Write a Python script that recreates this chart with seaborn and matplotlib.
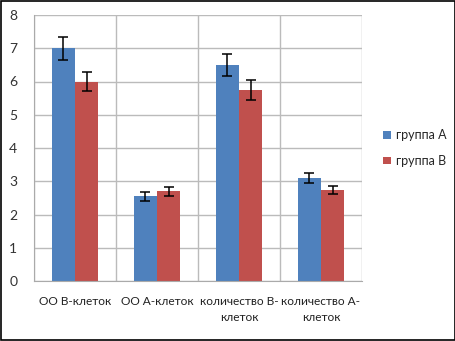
import matplotlib
matplotlib.use("Agg")
import matplotlib.pyplot as plt
import seaborn as sns
import pandas as pd
from matplotlib.patches import Rectangle

categories = ["ОО В-клеток", "ОО А-клеток", "количество В-\nклеток", "количество А-\nклеток"]
groups = ["группа А", "группа В"]
values_a = [7.0, 2.55, 6.5, 3.1]
values_b = [6.0, 2.7, 5.75, 2.75]
err_a = [0.35, 0.13, 0.33, 0.15]
err_b = [0.3, 0.13, 0.3, 0.12]
yticks = [0, 1, 2, 3, 4, 5, 6, 7, 8]

sns.set_style("white")
plt.rcParams['font.family'] = ['Lato', 'DejaVu Sans']

df = pd.DataFrame({
    "cat": categories * 2,
    "grp": [groups[0]] * 4 + [groups[1]] * 4,
    "val": values_a + values_b,
    "err": err_a + err_b,
})

fig = plt.figure(figsize=(4.56, 3.41), dpi=100)
ax = fig.add_axes([34/456, 60/341, (362-34)/456, (281-15)/341])
palette = {groups[0]: "#4F81BD", groups[1]: "#C0504D"}
sns.barplot(data=df, x="cat", y="val", hue="grp", palette=palette, width=0.57,
            errorbar=None, ax=ax, saturation=1, linewidth=0)

# error bars
for container, errs in zip(ax.containers, [err_a, err_b]):
    xs = [p.get_x() + p.get_width() / 2 for p in container]
    hs = [p.get_height() for p in container]
    ax.errorbar(xs, hs, yerr=errs, fmt="none", ecolor="black", elinewidth=1.1,
                capsize=3.5, capthick=1.1, zorder=5)

ax.set_xlim(-0.5, 3.5)
ax.set_ylim(0, 8)
ax.set_yticks(yticks)
ax.set_yticklabels([str(t) for t in yticks], fontsize=10, color="#333333")
ax.set_xticks([0, 1, 2, 3])
ax.set_xticklabels(categories, fontsize=8.6, color="#222222", linespacing=1.55)
ax.set_xticks([-0.5, 0.5, 1.5, 2.5, 3.5], minor=True)
ax.tick_params(axis="x", which="major", length=0, pad=11)
ax.tick_params(axis="x", which="minor", length=4, color="#B0B0B0")
ax.tick_params(axis="y", length=4, color="#B0B0B0", pad=8)
ax.set_xlabel("")
ax.set_ylabel("")
ax.grid(axis="y", color="#BBBBBB", linewidth=1)
ax.grid(axis="x", which="minor", color="#BBBBBB", linewidth=1)
ax.set_axisbelow(True)
for s in ["top", "right"]:
    ax.spines[s].set_visible(False)
for s in ["left", "bottom"]:
    ax.spines[s].set_color("#AAAAAA")

ax.legend(loc="center left", bbox_to_anchor=(1.03, 0.5), frameon=False,
          fontsize=9, handlelength=0.6, handleheight=0.6, handletextpad=0.4,
          labelspacing=1.1)

fig.patches.append(Rectangle((0.002, 0.003), 0.995, 0.994, transform=fig.transFigure,
                             fill=False, edgecolor="black", linewidth=1.2))

fig.savefig("out.png", dpi=100)
